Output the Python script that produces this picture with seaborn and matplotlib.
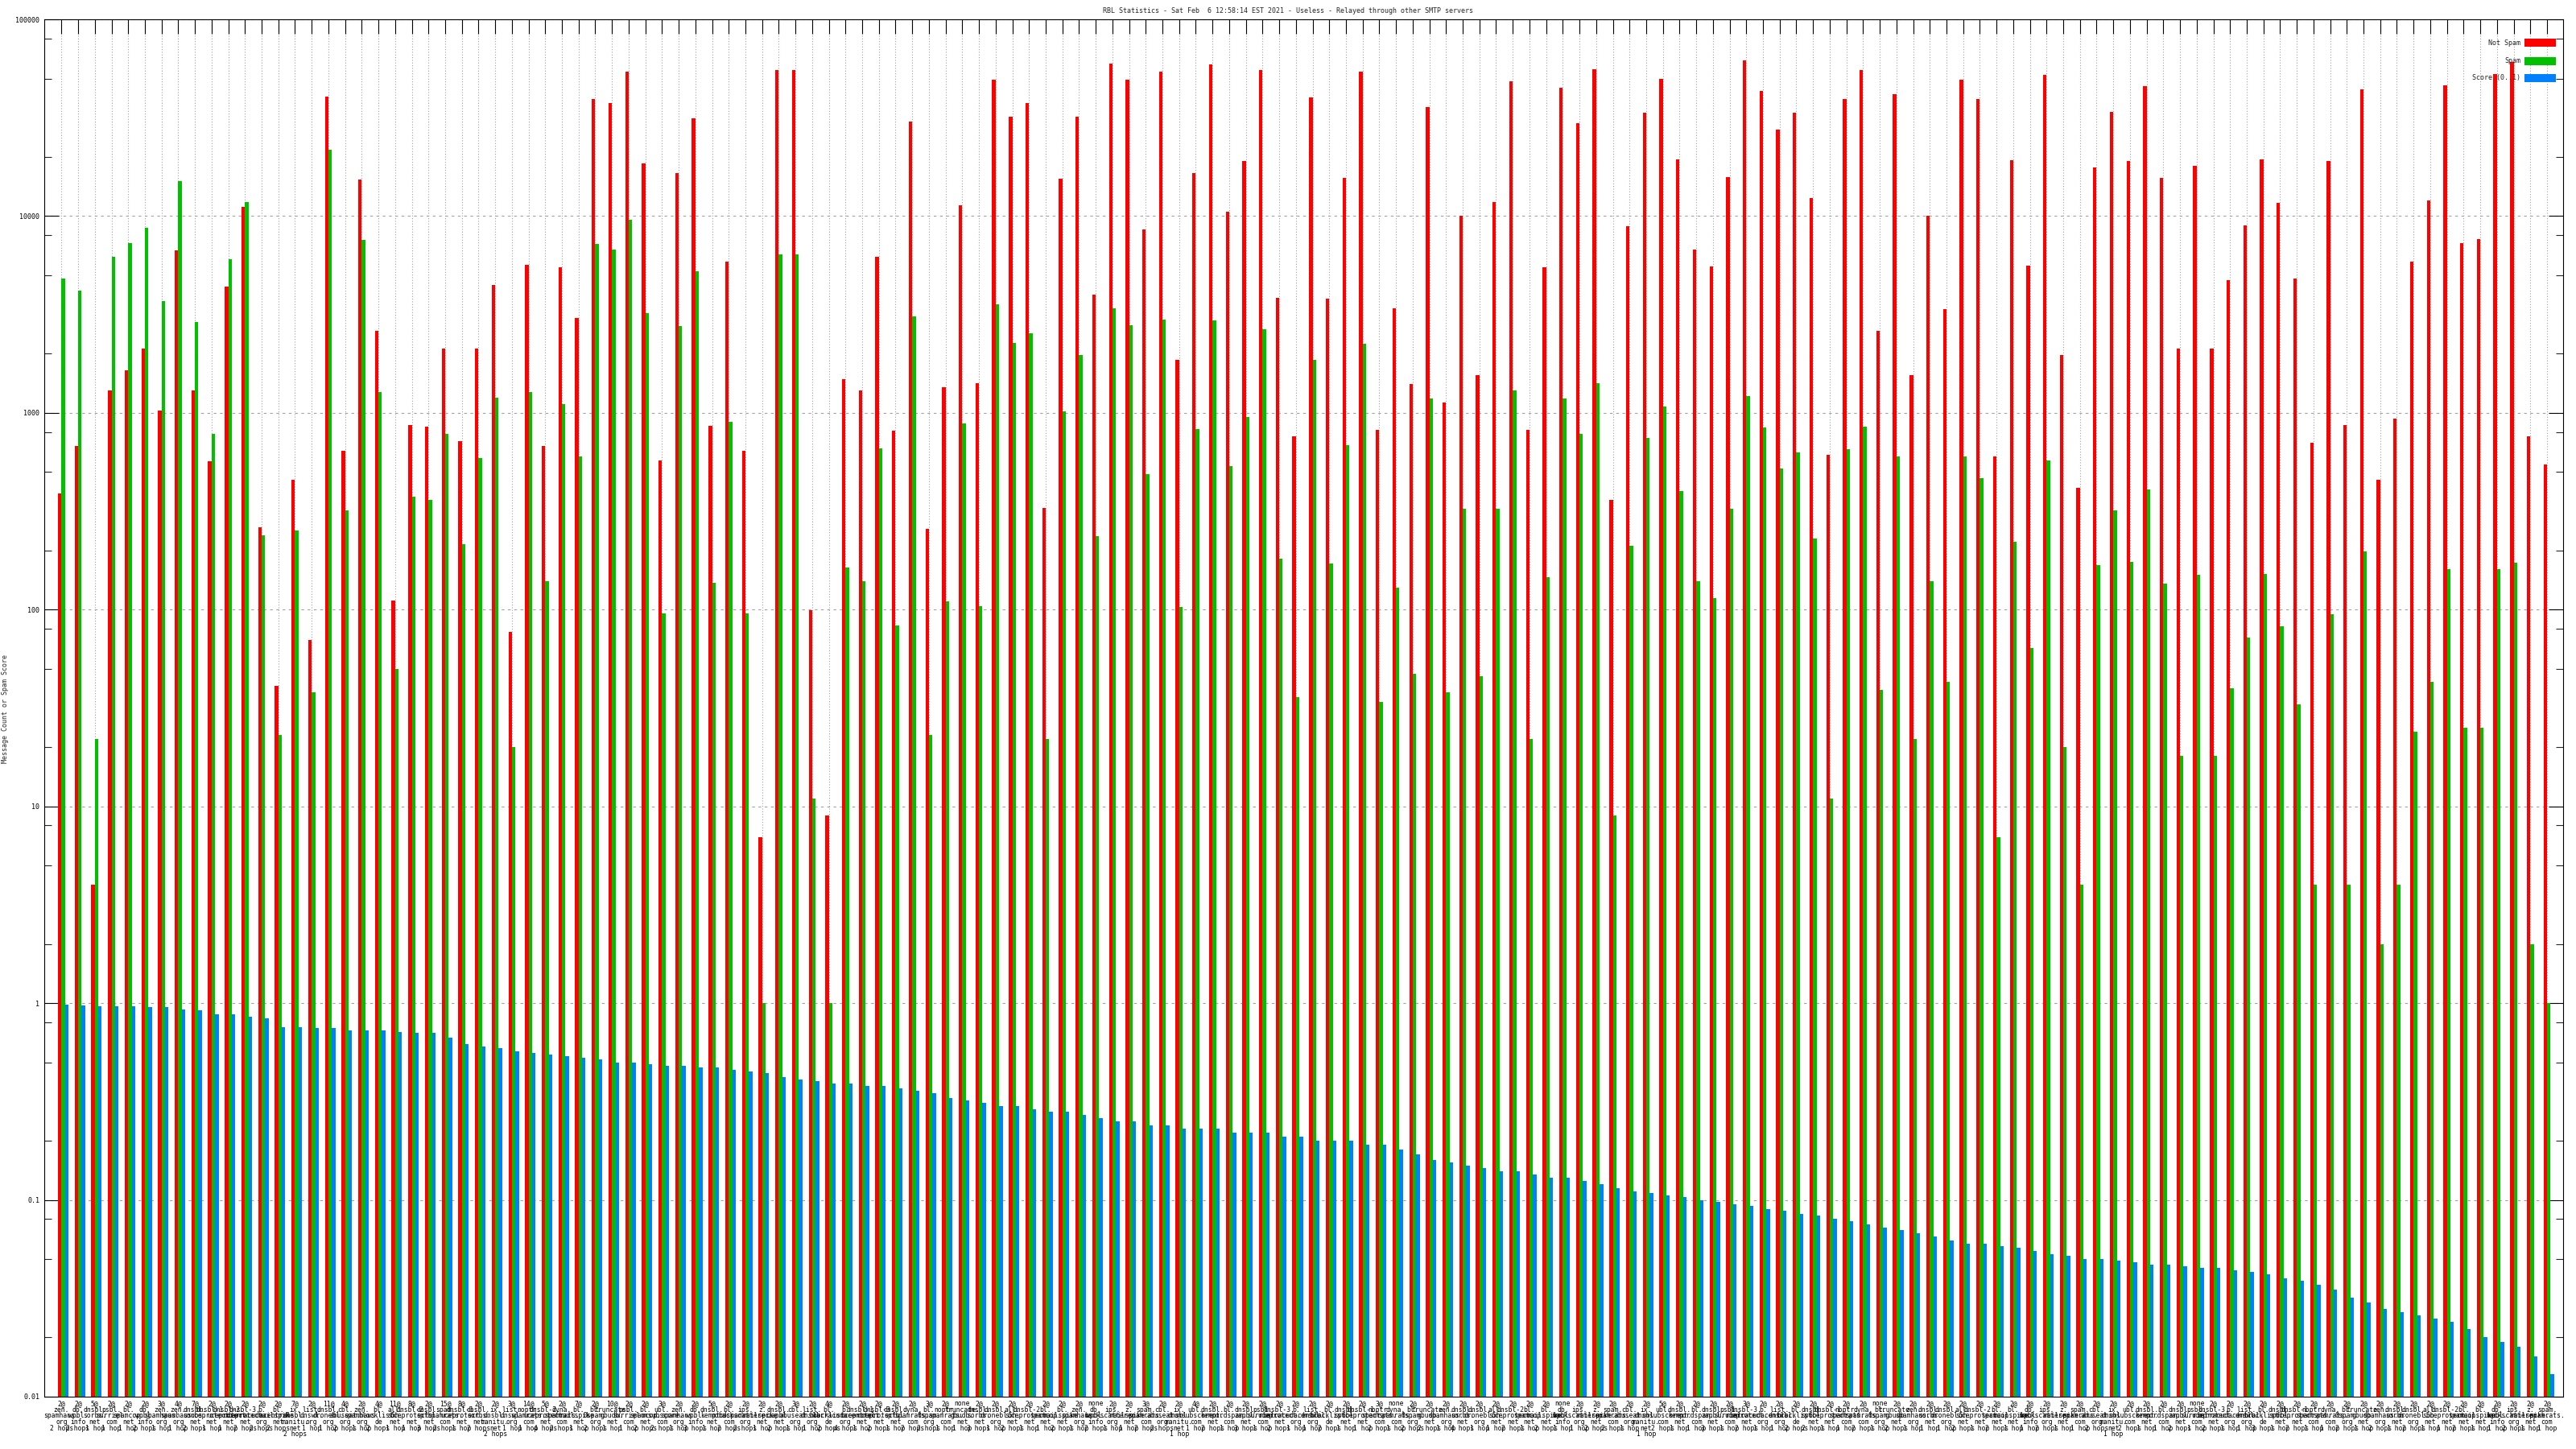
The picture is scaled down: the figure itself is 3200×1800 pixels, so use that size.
import numpy as np
import pandas as pd
import matplotlib
matplotlib.use("Agg")
import matplotlib.pyplot as plt
import seaborn as sns
from matplotlib.ticker import FixedLocator, FixedFormatter, LogLocator, NullFormatter
from matplotlib.patches import Rectangle

# ---------------- data ----------------
not_spam = [
    389, 677, 4, 1300, 1650, 2115, 1032, 6700, 1305, 566, 4400, 11150, 261, 41, 458, 70, 40400, 641, 15400, 2610, 111, 863, 850, 2115, 715,
    2130, 4480, 77, 5660, 677, 5520, 3030, 39500, 37700, 54000, 18500, 574, 16600, 31500, 855, 5880, 641, 7, 55200, 55000, 99, 9, 1490, 1295, 6200,
    810, 30100, 257, 1356, 11400, 1410, 49200, 32000, 37700, 330, 15500, 32000, 3980, 59700, 49500, 8550, 54000, 1867, 16500, 58800, 10560, 19100, 55000, 3830, 760,
    40100, 3800, 15700, 54000, 816, 3400, 1400, 35700, 1133, 10000, 1549, 11800, 48400, 822, 5520, 44800, 29800, 55700, 362, 8900, 33500, 49900, 19400, 6770, 5570,
    15850, 61600, 43400, 27600, 33500, 12350, 611, 39200, 55200, 2610, 41700, 1549, 10050, 3380, 49200, 39500, 598, 19270, 5610, 52300, 1970, 414, 17700, 34000, 19100,
    45800, 15700, 2130, 17950, 2130, 4730, 8970, 19400, 11700, 4800, 704, 19000, 863, 44100, 458, 932, 5880, 12060, 46200, 7310, 7670, 52700, 60700, 760, 544,
]
spam = [
    4800, 4200, 22, 6200, 7260, 8750, 3710, 15100, 2890, 785, 6020, 11800, 238, 23, 253, 38, 21700, 318, 7600, 1275, 50, 374, 362, 780, 215,
    588, 1197, 20, 1275, 139, 1107, 602, 7200, 6770, 9540, 3200, 96, 2760, 5230, 137, 903, 96, 1, 6410, 6410, 11, 1, 164, 139, 661,
    83, 3080, 23, 110, 883, 104, 3570, 2270, 2530, 22, 1016, 1970, 236, 3400, 2800, 488, 2985, 103, 830, 2940, 535, 955, 2670, 181, 36,
    1867, 171, 682, 2250, 34, 129, 47, 1188, 38, 325, 46, 327, 1305, 22, 146, 1178, 780, 1410, 9, 211, 743, 1081, 401, 139, 114,
    325, 1216, 842, 523, 631, 229, 11, 656, 849, 39, 598, 22, 140, 43, 598, 465, 7, 222, 64, 574, 20, 4, 169, 318, 174,
    407, 136, 18, 150, 18, 40, 72, 152, 82, 33, 4, 95, 4, 197, 2, 4, 24, 43, 160, 25, 25, 160, 173, 2, 1,
]
score = [
    0.985, 0.977, 0.965, 0.965, 0.965, 0.955, 0.955, 0.925, 0.92, 0.88, 0.88, 0.855, 0.835, 0.755, 0.755, 0.75, 0.75, 0.73, 0.73, 0.725, 0.71, 0.705, 0.705, 0.67, 0.62,
    0.60, 0.59, 0.57, 0.56, 0.55, 0.54, 0.53, 0.52, 0.50, 0.50, 0.49, 0.48, 0.48, 0.47, 0.47, 0.46, 0.45, 0.44, 0.42, 0.41, 0.40, 0.39, 0.39, 0.38, 0.38,
    0.37, 0.36, 0.35, 0.33, 0.32, 0.31, 0.30, 0.30, 0.29, 0.28, 0.28, 0.27, 0.26, 0.25, 0.25, 0.24, 0.24, 0.23, 0.23, 0.23, 0.22, 0.22, 0.22, 0.21, 0.21,
    0.20, 0.20, 0.20, 0.19, 0.19, 0.18, 0.17, 0.16, 0.155, 0.15, 0.145, 0.14, 0.14, 0.135, 0.13, 0.13, 0.125, 0.12, 0.115, 0.11, 0.108, 0.105, 0.103, 0.10, 0.098,
    0.095, 0.093, 0.09, 0.088, 0.085, 0.083, 0.08, 0.078, 0.075, 0.072, 0.07, 0.068, 0.065, 0.062, 0.06, 0.06, 0.058, 0.057, 0.055, 0.053, 0.052, 0.05, 0.05, 0.049, 0.048,
    0.047, 0.047, 0.046, 0.045, 0.045, 0.044, 0.043, 0.042, 0.04, 0.039, 0.037, 0.035, 0.032, 0.03, 0.028, 0.027, 0.026, 0.025, 0.024, 0.022, 0.02, 0.019, 0.018, 0.016, 0.013,
]

rbl_names = [
    "zen.spamhaus.org", "db.wpbl.info", "dnsbl.sorbs.net", "psbl.surriel.com", "bl.spamcop.net",
    "dnsbl-1.uceprotect.net", "dnsbl-2.uceprotect.net", "dnsbl-3.uceprotect.net", "b.barracudacentral.org",
    "bl.mailspike.net", "ix.dnsbl.manitu.net", "list.dnswl.org", "dnsbl.dronebl.org", "cbl.abuseat.org",
    "bl.blocklist.de", "all.s5h.net", "dnsbl.spfbl.net", "spam.spamrats.com", "noptr.spamrats.com",
    "dyna.spamrats.com", "bl.0spam.org", "truncate.gbudb.net", "ubl.unsubscore.com", "dnsbl.kempt.net",
    "bl.nordspam.com", "ips.backscatterer.org", "z.mailspike.net", "dnsbl.zapbl.net",
]
rbl_idx = [
    0, 1, 2, 3, 4, 1, 0, 0, 2, 5, 6, 7, 8, 9, 10, 11, 12, 13, 0, 14, 15, 6, 16, 17, 5,
    2, 10, 11, 18, 6, 19, 9, 20, 21, 3, 4, 22, 0, 1, 23, 24, 25, 26, 27, 13, 11, 14, 8, 5, 7,
    16, 19, 20, 18, 21, 2, 12, 15, 6, 4, 9, 0, 1, 25, 26, 17, 13, 10, 22, 23, 24, 27, 3, 7, 8,
    11, 14, 16, 5, 18, 19, 20, 21, 0, 2, 12, 15, 6, 4, 9, 1, 25, 26, 17, 13, 10, 22, 23, 24, 27,
    3, 7, 8, 11, 14, 16, 5, 18, 19, 20, 21, 0, 2, 12, 15, 6, 4, 9, 1, 25, 26, 17, 13, 10, 22,
    23, 24, 27, 3, 7, 8, 11, 14, 16, 5, 18, 19, 20, 21, 0, 2, 12, 15, 6, 4, 9, 1, 25, 26, 17,
]
at_counts = [
    2, 2, 5, 2, 2, 2, 3, 4, 7, 2, 2, 2, 2, 2, 7, 2, 11, 4, 2, 4, 11, 8, 2, 15, 8,
    2, 2, 3, 14, 5, 2, 7, 2, 10, 2, 2, 3, 2, 2, 5, 2, 2, 2, 2, 3, 2, 4, 2, 2, 2,
    2, 2, 3, 2, 0, 2, 2, 2, 2, 2, 2, 2, 0, 2, 2, 3, 2, 2, 4, 2, 2, 2, 2, 2, 2,
    2, 2, 2, 2, 3, 0, 2, 2, 2, 2, 2, 2, 2, 2, 2, 0, 2, 2, 2, 2, 2, 5, 2, 2, 2,
    2, 3, 2, 2, 2, 2, 2, 2, 2, 0, 2, 2, 2, 2, 2, 2, 2, 2, 2, 2, 2, 2, 2, 2, 2,
    2, 2, 2, 0, 2, 2, 2, 2, 2, 2, 2, 2, 2, 2, 2, 2, 2, 2, 2, 2, 2, 2, 2, 2, 2,
]
hops = [
    2, 2, 1, 1, 1, 2, 1, 1, 2, 1, 1, 2, 2, 2, 2, 1, 1, 2, 1, 2, 1, 1, 3, 2, 1,
    2, 2, 1, 1, 4, 2, 1, 2, 1, 1, 2, 2, 1, 3, 1, 2, 2, 1, 2, 1, 1, 2, 4, 1, 2,
    1, 2, 2, 1, 1, 3, 1, 2, 1, 1, 2, 1, 2, 1, 1, 2, 2, 1, 1, 2, 1, 3, 1, 2, 1,
    1, 2, 1, 1, 2, 1, 2, 2, 1, 4, 1, 1, 2, 1, 2, 1, 1, 2, 2, 1, 1, 2, 1, 1, 3,
    1, 2, 1, 1, 2, 2, 1, 1, 2, 1, 2, 1, 1, 1, 2, 1, 2, 1, 1, 2, 1, 1, 2, 1, 2,
    1, 1, 2, 1, 2, 1, 1, 3, 1, 2, 1, 1, 2, 1, 2, 1, 2, 1, 1, 2, 1, 1, 2, 1, 1,
]
series_names = ["Not Spam", "Spam", "Score (0..1)"]
series_colors = ["#ff0000", "#00c000", "#0080ff"]
ytick_vals = [0.01, 0.1, 1, 10, 100, 1000, 10000, 100000]
ytick_labels = ["0.01", "0.1", "1", "10", "100", "1000", "10000", "100000"]
title = "RBL Statistics - Sat Feb  6 12:58:14 EST 2021 - Useless - Relayed through other SMTP servers"
ylabel = "Message Count or Spam Score"


def make_label(n, name, h):
    parts = name.split(".")
    lines = [("none" if n == 0 else f"{n}@")]
    lines += [p + "." for p in parts[:-1]] + [parts[-1]]
    lines.append(f"{h} hop" if h == 1 else f"{h} hops")
    return "\n".join(lines)


labels = [make_label(n, rbl_names[i], h) for n, i, h in zip(at_counts, rbl_idx, hops)]
n_groups = len(labels)

df = pd.DataFrame({
    "gid": np.tile(np.arange(n_groups), 3),
    "series": np.repeat(series_names, n_groups),
    "value": np.concatenate([not_spam, spam, score]).astype(float),
})

# ---------------- style ----------------
sns.set_theme(style="white")
mono = ["DejaVu Sans Mono"]
plt.rcParams["font.family"] = mono
plt.rcParams["axes.edgecolor"] = "black"
plt.rcParams["axes.linewidth"] = 0.8

W, H = 3200, 1800
fig = plt.figure(figsize=(32, 18), dpi=100)
ax_l, ax_r, ax_t, ax_b = 55, 3184, 24, 1735
ax = fig.add_axes([ax_l / W, 1 - ax_b / H, (ax_r - ax_l) / W, (ax_b - ax_t) / H])

sns.barplot(data=df, x="gid", y="value", hue="series", hue_order=series_names,
            palette=series_colors, width=0.63, saturation=1, errorbar=None,
            legend=False, dodge=True, linewidth=0, ax=ax)

ax.set_yscale("log")
ax.set_ylim(0.01, 100000)
ax.yaxis.set_major_locator(FixedLocator(ytick_vals))
ax.yaxis.set_major_formatter(FixedFormatter(ytick_labels))
ax.yaxis.set_minor_locator(LogLocator(base=10, subs=[2, 5, 8]))
ax.yaxis.set_minor_formatter(NullFormatter())

tick_pos = [i - 0.105 for i in range(n_groups)]
ax.set_xticks(tick_pos)
ax.set_xticklabels(labels, fontsize=5.8, linespacing=0.8, family=mono)
ax.set_xlim(-1.135, 149.86)
ax.set_xlabel("")
ax.set_ylabel("")

ax.tick_params(axis="y", which="major", direction="in", length=13, width=0.8,
               left=True, right=True, labelsize=6, pad=4, colors="black")
ax.tick_params(axis="y", which="minor", direction="in", length=6.5, width=0.8,
               left=True, right=True)
ax.tick_params(axis="x", which="major", direction="in", length=13, width=0.8,
               top=True, bottom=True, pad=3, colors="black")

ax.set_axisbelow(True)
ax.grid(axis="x", which="major", color="#a0a0a0", linestyle=(0, (1, 2)), linewidth=0.8)
ax.grid(axis="y", which="major", color="#a0a0a0", linestyle=(0, (3, 4)), linewidth=0.8)
for s in ax.spines.values():
    s.set_visible(True)
    s.set_color("black")
    s.set_linewidth(0.8)

# title & y label
fig.text(0.5, 1 - 13 / H, title, ha="center", va="center", fontsize=6, family=mono)
fig.text(7 / W, 1 - 880 / H, ylabel, ha="center", va="center", rotation=90, fontsize=6, family=mono)

# legend (gnuplot style: right-aligned text, swatch on the right)
leg_y = [53, 76, 97]
for name, col, yc in zip(series_names, series_colors, leg_y):
    fig.patches.append(Rectangle((3136 / W, 1 - (yc + 5) / H), 39 / W, 10 / H,
                                 transform=fig.transFigure, facecolor=col,
                                 edgecolor="none", zorder=5))
    fig.text(3131 / W, 1 - yc / H, name, ha="right", va="center", fontsize=6, family=mono)

fig.savefig("out.png", dpi=100, facecolor="white")
